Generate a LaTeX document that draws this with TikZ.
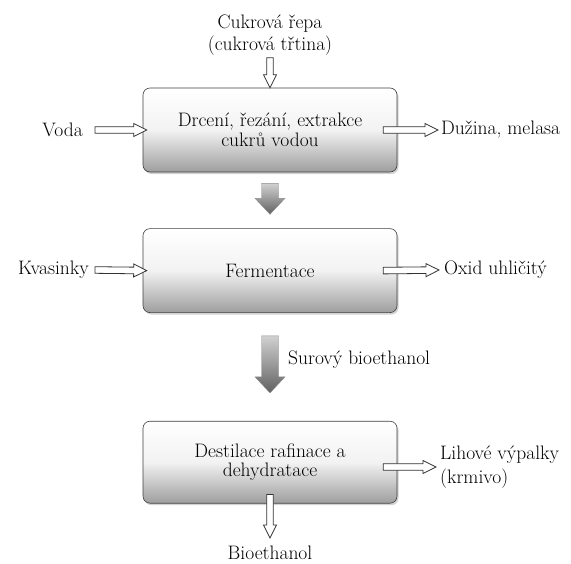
\documentclass[tikz,border=0pt]{standalone}
\usepackage{fontspec}
\usetikzlibrary{positioning}
\usetikzlibrary{calc}
\usetikzlibrary{shadows}
\tikzset{x=1pt, y=-1pt,
    every node/.style={
        inner sep=0pt,
        font=\fontsize{19.5}{19.5}\selectfont},
    process/.style={
        draw=black!75,
        semithick,
        rounded corners=7pt,
        minimum width=254pt,
        minimum height=84pt,
        align=center,
        top color=white, bottom color=black!38, middle color=black!5,
        drop shadow={shadow xshift=1.5pt, shadow yshift=-2pt, opacity=0.35}},
    hollow/.style={
        draw=black!80,
        fill=white,
        line width=0.8pt},
    greyblock/.style={
        draw=black!45,
        thin,
        top color=black!18, bottom color=black!62}}

% block arrows from one point to another
\newcommand{\hollowarrow}[2]{%
    \draw[hollow] let \p1=(#1), \p2=(#2),
        \n1={atan2(\y2-\y1,\x2-\x1)}, \n2={veclen(\x2-\x1,\y2-\y1)} in
        [shift={(\p1)}, rotate=\n1]
        (0pt,3.3pt) -- ({\n2-13pt},3.3pt) -- ({\n2-13pt},6.5pt) -- ({\n2+0pt},0pt)
        -- ({\n2-13pt},-6.5pt) -- ({\n2-13pt},-3.3pt) -- (0pt,-3.3pt) -- cycle;}
\newcommand{\greyarrow}[2]{%
    \draw[greyblock] let \p1=(#1), \p2=(#2),
        \n1={atan2(\y2-\y1,\x2-\x1)}, \n2={veclen(\x2-\x1,\y2-\y1)} in
        [shift={(\p1)}, rotate=\n1]
        (0pt,8.5pt) -- ({\n2-16pt},8.5pt) -- ({\n2-16pt},15pt) -- ({\n2+0pt},0pt)
        -- ({\n2-16pt},-15pt) -- ({\n2-16pt},-8.5pt) -- (0pt,-8.5pt) -- cycle;}

\begin{document}
\begin{tikzpicture}
    \useasboundingbox (0,0) rectangle (571,563);

    \node[process] (crush) at (270,130) {Drcení, řezání, extrakce\\cukrů vodou};
    \node[process, below=56pt of crush] (ferm) {Fermentace};
    \node[process, below=108pt of ferm, minimum height=82pt] (dest) {Destilace rafinace a\\dehydratace};

    \node[align=center, font=\fontsize{19.5}{22.5}\selectfont] (beet) at (270,35) {Cukrová řepa\\(cukrová třtina)};
    \node[anchor=east] (water) at (83,130) {Voda};
    \node[anchor=west] (pulp) at (441,130) {Dužina, melasa};
    \node[anchor=east] (yeast) at (89,270) {Kvasinky};
    \node[anchor=west] (co2) at (444,270) {Oxid uhličitý};
    \node[anchor=west] (crude) at (288,360) {Surový bioethanol};
    \node[anchor=west, align=left, font=\fontsize{19.5}{24}\selectfont] (stillage) at (440,467) {Lihové výpalky\\(krmivo)};
    \node (ethanol) at (270,553) {Bioethanol};

    \hollowarrow{$(beet.south)+(0,2)$}{crush.north}
    \hollowarrow{$(water.east)+(12,0)$}{$(crush.west)+(4,0)$}
    \hollowarrow{$(crush.east)+(-14,0)$}{$(pulp.west)+(-3,0)$}
    \hollowarrow{$(yeast.east)+(6,0)$}{$(ferm.west)+(4,0)$}
    \hollowarrow{$(ferm.east)+(-14,0)$}{$(co2.west)+(-5,0)$}
    \hollowarrow{$(dest.east |- stillage.west)+(-14,0)$}{$(stillage.west)+(-4,0)$}
    \hollowarrow{$(dest.south)+(0,-9)$}{$(ethanol.north)+(0,-8)$}

    \greyarrow{$(crush.south)+(0,11)$}{$(ferm.north)+(0,-14)$}
    \greyarrow{$(ferm.south)+(0,23)$}{$(dest.north)+(0,-28)$}
\end{tikzpicture}
\end{document}
